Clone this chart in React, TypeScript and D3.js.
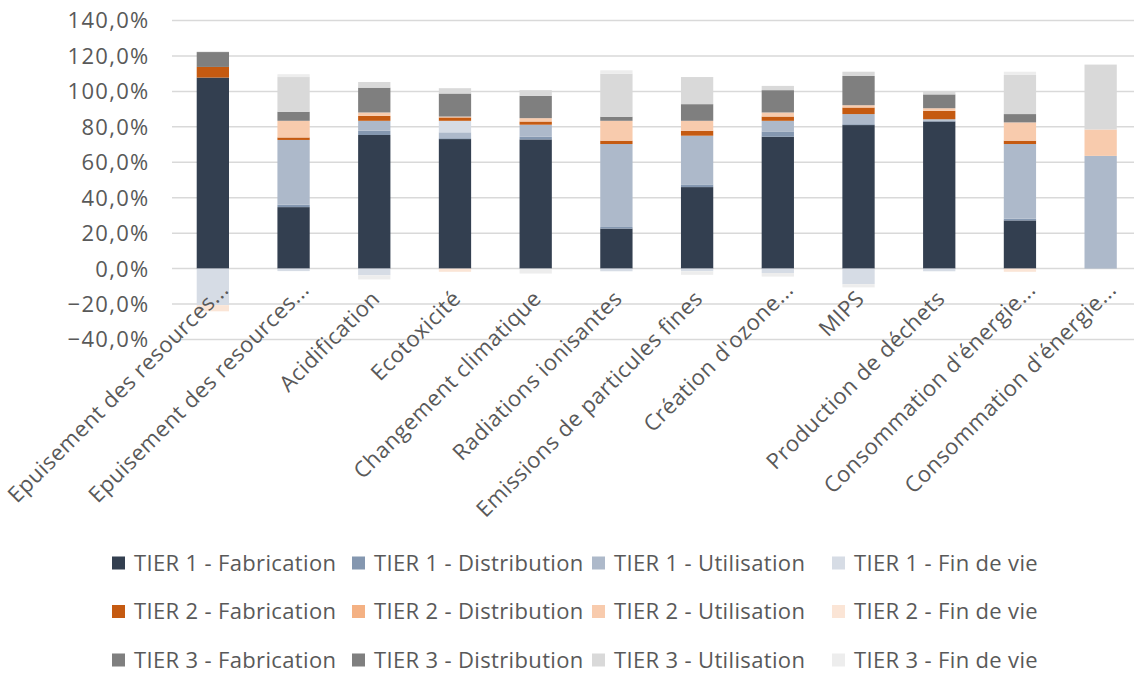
import React from "react";
import * as d3 from "d3";

const categories = [
  "Epuisement des resources...",
  "Epuisement des resources...",
  "Acidification",
  "Ecotoxicité",
  "Changement climatique",
  "Radiations ionisantes",
  "Emissions de particules fines",
  "Création d'ozone...",
  "MIPS",
  "Production de déchets",
  "Consommation d'énergie...",
  "Consommation d'énergie...",
];

const seriesNames = [
  "TIER 1 - Fabrication",
  "TIER 1 - Distribution",
  "TIER 1 - Utilisation",
  "TIER 1 - Fin de vie",
  "TIER 2 - Fabrication",
  "TIER 2 - Distribution",
  "TIER 2 - Utilisation",
  "TIER 2 - Fin de vie",
  "TIER 3 - Fabrication",
  "TIER 3 - Distribution",
  "TIER 3 - Utilisation",
  "TIER 3 - Fin de vie",
];

const seriesColors = [
  "#333f50", "#8497b0", "#adb9ca", "#d6dce5",
  "#c55a11", "#f4b183", "#f8cbad", "#fbe5d6",
  "#7f7f7f", "#7f7f7f", "#d9d9d9", "#ededed",
];

// values in %
const t1Fab = [107.8, 34.7, 75.4, 73.1, 72.9, 22.6, 46.0, 74.4, 81.0, 83.0, 27.2, 0];
const t1Dist = [0, 1.4, 2.4, 0.5, 1.5, 0.9, 1.5, 3.0, 0.5, 0.5, 1.0, 0];
const t1Util = [0, 36.5, 5.6, 3.3, 6.8, 46.8, 27.5, 6.0, 5.7, 0.8, 42.1, 63.6];
const t1Fdv = [-20.6, -1.4, -3.7, 6.5, 0, -1.5, -1.5, -2.5, -8.8, -1.5, 0, 0];
const t2Fab = [6.0, 1.4, 2.8, 1.9, 1.8, 1.9, 2.8, 2.4, 3.7, 4.7, 1.9, 0];
const t2Dist = [0, 0, 0, 0, 0, 0, 0, 0, 0, 0, 0, 0];
const t2Util = [0, 9.4, 1.9, 0.5, 1.9, 11.2, 5.6, 2.3, 1.3, 1.5, 10.3, 14.9];
const t2Fdv = [-3.5, 0, 0, -1.8, 0, 0, 0, 0, 0, 0, -1.8, 0];
const t3Fab = [8.4, 5.1, 14.0, 13.0, 12.6, 2.3, 9.4, 12.6, 16.5, 7.8, 4.7, 0];
const t3Dist = [0, 0, 0, 0, 0, 0, 0, 0, 0, 0, 0, 0];
const t3Util = [0, 19.6, 3.2, 3.0, 3.2, 24.3, 15.3, 2.4, 2.4, 1.9, 22.1, 36.4];
const t3Fdv = [0.5, 1.6, -2.4, 0, -2.8, 1.9, -2.0, -2.0, -1.8, 0, 1.8, 0.5];

const yTicks = [-40, -20, 0, 20, 40, 60, 80, 100, 120, 140];

const allSeries = [t1Fab, t1Dist, t1Util, t1Fdv, t2Fab, t2Dist, t2Util, t2Fdv, t3Fab, t3Dist, t3Util, t3Fdv];

const W = 1134;
const H = 673;
const FONT = "'Open Sans', Lato, sans-serif";
const TXT = "#595959";

export default function App() {
  const rows = categories.map((c, i) => {
    const r: any = { idx: i };
    seriesNames.forEach((s, k) => (r[s] = allSeries[k][i]));
    return r;
  });
  const stacked = d3
    .stack<any>()
    .keys(seriesNames)
    .order(d3.stackOrderNone)
    .offset(d3.stackOffsetDiverging)(rows);

  const x = d3
    .scaleBand<number>()
    .domain(categories.map((_, i) => i))
    .range([172.5, 1141])
    .paddingInner(0.6)
    .paddingOuter(0.3);
  const y = d3.scaleLinear().domain([-40, 140]).range([339.5, 20.5]);
  const fmt = (v: number) => d3.format(".1f")(v).replace(".", ",") + "%";

  return (
    <div style={{ position: "absolute", left: 0, top: 0 }}>
      <svg width={W} height={H} style={{ display: "block", background: "#fff" }}>
        {yTicks.map((t) => (
          <g key={t}>
            <line x1={172} x2={W} y1={y(t)} y2={y(t)} stroke="#d9d9d9" strokeWidth={1.5} />
            <text
              x={149.5}
              y={y(t)}
              dy="0.36em"
              textAnchor="end"
              fontFamily={FONT}
              fontSize={22}
              letterSpacing={1.3}
              fill={TXT}
            >
              {fmt(t)}
            </text>
          </g>
        ))}
        {stacked.map((s, k) => (
          <g key={s.key} fill={seriesColors[k]}>
            {s.map((d, i) => {
              const y0 = y(d[0]);
              const y1 = y(d[1]);
              const h = Math.abs(y0 - y1);
              if (h < 0.01) return null;
              return <rect key={i} x={x(i)} y={Math.min(y0, y1)} width={x.bandwidth()} height={h} />;
            })}
          </g>
        ))}
        {categories.map((c, i) => {
          const cx = (x(i) as number) + x.bandwidth() / 2;
          const trunc = c.endsWith("...");
          const ax = cx + 7 + (trunc ? 10 : 0);
          const ay = 300 - (trunc ? 9 : 0);
          return (
            <text
              key={i}
              transform={`translate(${ax},${ay}) rotate(-45)`}
              textAnchor="end"
              fontFamily={FONT}
              fontSize={22}
              letterSpacing={0.5}
              fill={TXT}
            >
              {c}
            </text>
          );
        })}
        {seriesNames.map((s, k) => {
          const col = k % 4;
          const row = Math.floor(k / 4);
          const lx = 112 + col * 240;
          const ly = 563 + row * 48.5;
          return (
            <g key={s}>
              <rect x={lx} y={ly - 6.5} width={13} height={13} fill={seriesColors[k]} />
              <text
                x={lx + 22}
                y={ly}
                dy="0.36em"
                fontFamily={FONT}
                fontSize={22}
                letterSpacing={0.35}
                fill={TXT}
              >
                {s}
              </text>
            </g>
          );
        })}
      </svg>
    </div>
  );
}
